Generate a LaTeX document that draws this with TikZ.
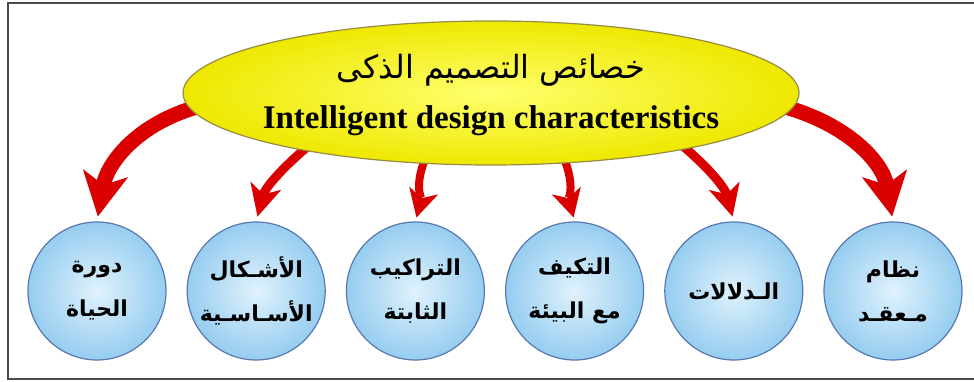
\documentclass[tikz,border=0pt]{standalone}
\usepackage{fontspec}
\setmainfont{Liberation Serif}
\newfontfamily\arabicfont[Script=Arabic]{DejaVu Sans}
\TeXXeTstate=1
\usetikzlibrary{arrows.meta, shapes.geometric, backgrounds}
\definecolor{bubblein}{RGB}{224,242,252}
\definecolor{bubbleout}{RGB}{150,205,240}
\definecolor{bubbleline}{RGB}{88,120,175}
\definecolor{titlein}{RGB}{255,255,110}
\definecolor{titleout}{RGB}{238,232,0}
\definecolor{titleline}{RGB}{150,140,70}
\definecolor{arrowred}{RGB}{218,0,0}
% right-to-left piece of text
\newcommand{\ar}[1]{{\arabicfont\beginR #1\endR}}

\begin{document}
\begin{tikzpicture}[x=1pt,y=1pt,
  titlebox/.style={ellipse,draw=titleline,line width=1.2pt,minimum width=616pt,minimum height=144pt,
    inner color=titlein,outer color=titleout,inner sep=0pt},
  bubble/.style={circle,draw=bubbleline,line width=1.2pt,minimum size=138pt,inner sep=0pt,
    inner color=bubblein,outer color=bubbleout,align=center,
    font=\arabicfont\bfseries\fontsize{22}{44}\selectfont},
  fatarrow/.style={draw=arrowred,line width=15pt,shorten <=-12pt,shorten >=5pt,
    -{Stealth[length=44pt,width=46pt,inset=12pt,line width=0pt]}},
  midarrow/.style={draw=arrowred,line width=9pt,shorten <=-12pt,shorten >=5pt,
    -{Stealth[length=32pt,width=32pt,inset=9pt,line width=0pt]}},
  thinarrow/.style={draw=arrowred,line width=8pt,shorten <=-12pt,shorten >=4pt,
    -{Stealth[length=28pt,width=30pt,inset=8pt,line width=0pt]}}]
  \useasboundingbox (0,0) rectangle (974,382);
  \draw[line width=2pt,black!70] (8,3) rectangle (990,379);

  \node[titlebox] (title) at (491,289) {};
  \node[align=center] (titletext) at (491,287)
    {\ar{\fontsize{32}{34}\selectfont خصائص التصميم الذكى}\\[19pt]
     {\bfseries\fontsize{33}{36}\selectfont Intelligent design characteristics}};

  % the six bubbles, left to right
  \foreach \txt [count=\i] in {{\ar{دورة}\\\ar{الحياة}},
                               {\ar{الأشـكال}\\\ar{الأسـاسـية}},
                               {\ar{التراكيب}\\\ar{الثابتة}},
                               {\ar{التكيف}\\\ar{مع البيئة}},
                               {\ar{الـدلالات}},
                               {\ar{نظام}\\\ar{مـعقـد}}}
    \node[bubble] (c\i) at ({97+159.2*(\i-1)},91) {\txt};

  \begin{scope}[on background layer]
    \draw[fatarrow]  (title.183.5) to[out=195,in=80]  (c1.north);
    \draw[midarrow]  (title.197)   to[out=-140,in=75] (c2.north);
    \draw[thinarrow] (title.226)   to[out=-115,in=75] (c3.north);
    \draw[thinarrow] (title.-43)   to[out=-65,in=105] (c4.north);
    \draw[midarrow]  (title.-16)   to[out=-40,in=105] (c5.north);
    \draw[fatarrow]  (title.-3)    to[out=-15,in=100] (c6.north);
  \end{scope}
\end{tikzpicture}
\end{document}
